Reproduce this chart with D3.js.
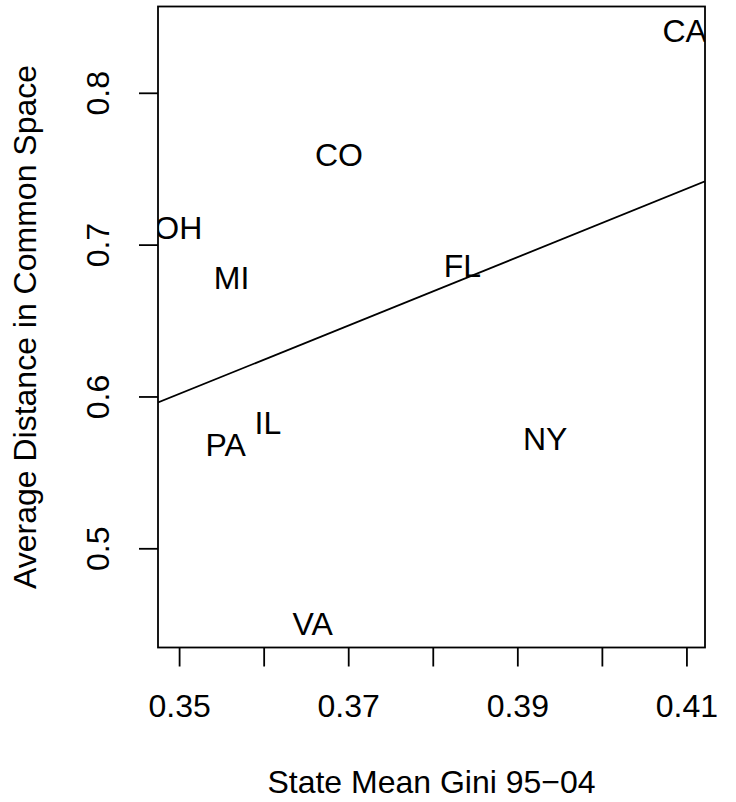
<!DOCTYPE html>
<html>
<head>
<meta charset="utf-8">
<script src="https://cdn.jsdelivr.net/npm/d3@7"></script>
<style>
  html, body { margin: 0; padding: 0; background: #ffffff; }
  svg { display: block; }
  text { font-family: "Liberation Sans", Arial, Helvetica, sans-serif; fill: #000; }
</style>
</head>
<body>
<script>
// State labels with mean Gini (x) and average distance in common space (y)
const states = ["OH", "CO", "MI", "CA", "FL", "PA", "IL", "VA", "NY"];
const gini = [0.3499, 0.3689, 0.3562, 0.4098, 0.3835, 0.3555, 0.3605, 0.3658, 0.3933];
const distance = [0.7110, 0.7593, 0.6782, 0.8412, 0.6863, 0.5684, 0.5831, 0.4503, 0.5723];

const xTicks = [0.35, 0.36, 0.37, 0.38, 0.39, 0.40, 0.41];
const xTickLabels = ["0.35", "", "0.37", "", "0.39", "", "0.41"];
const yTicks = [0.5, 0.6, 0.7, 0.8];
const yTickLabels = ["0.5", "0.6", "0.7", "0.8"];

const xTitle = "State Mean Gini 95\u221204";
const yTitle = "Average Distance in Common Space";

const W = 736, H = 802;
const box = { left: 158, right: 705, top: 6.5, bottom: 647.5 };
const fontSize = 32;
const capShift = fontSize * 0.716 / 2;

// extend data range by 4% on each side, like a default base-graphics plot
function padded(arr) {
  const [lo, hi] = d3.extent(arr);
  const r = hi - lo;
  return [lo - 0.04 * r, hi + 0.04 * r];
}

const x = d3.scaleLinear().domain(padded(gini)).range([box.left, box.right]);
const y = d3.scaleLinear().domain(padded(distance)).range([box.bottom, box.top]);

// ordinary least squares fit
const mx = d3.mean(gini), my = d3.mean(distance);
let sxy = 0, sxx = 0;
gini.forEach((g, i) => { sxy += (g - mx) * (distance[i] - my); sxx += (g - mx) * (g - mx); });
const slope = sxy / sxx;
const intercept = my - slope * mx;

const svg = d3.select("body").append("svg").attr("width", W).attr("height", H);
svg.append("rect").attr("width", W).attr("height", H).attr("fill", "#fff");

svg.append("defs").append("clipPath").attr("id", "plotClip")
  .append("rect")
  .attr("x", box.left).attr("y", box.top)
  .attr("width", box.right - box.left).attr("height", box.bottom - box.top);

const plot = svg.append("g").attr("clip-path", "url(#plotClip)");

// point labels
plot.selectAll("text.state")
  .data(states)
  .enter().append("text")
  .attr("class", "state")
  .attr("x", (d, i) => x(gini[i]))
  .attr("y", (d, i) => y(distance[i]) + capShift)
  .attr("text-anchor", "middle")
  .attr("font-size", fontSize)
  .text(d => d);

// regression line across the plot region
const xd = x.domain();
plot.append("line")
  .attr("x1", x(xd[0])).attr("y1", y(intercept + slope * xd[0]))
  .attr("x2", x(xd[1])).attr("y2", y(intercept + slope * xd[1]))
  .attr("stroke", "#000").attr("stroke-width", 1.8);

// frame
svg.append("rect")
  .attr("x", box.left).attr("y", box.top)
  .attr("width", box.right - box.left).attr("height", box.bottom - box.top)
  .attr("fill", "none").attr("stroke", "#000").attr("stroke-width", 1.8);

// x axis
const xAxis = d3.axisBottom(x)
  .tickValues(xTicks)
  .tickSize(19)
  .tickPadding(0)
  .tickFormat((d, i) => xTickLabels[i]);
const gx = svg.append("g").attr("transform", `translate(0,${box.bottom})`).call(xAxis);
gx.select(".domain").remove();
gx.selectAll(".tick line").attr("stroke", "#000").attr("stroke-width", 1.8);
gx.selectAll(".tick text")
  .attr("font-size", fontSize)
  .attr("font-family", "Liberation Sans, Arial, sans-serif")
  .attr("dy", null)
  .attr("y", 717 - box.bottom);

// y axis
const yAxis = d3.axisLeft(y)
  .tickValues(yTicks)
  .tickSize(19)
  .tickPadding(0)
  .tickFormat((d, i) => yTickLabels[i]);
const gy = svg.append("g").attr("transform", `translate(${box.left},0)`).call(yAxis);
gy.select(".domain").remove();
gy.selectAll(".tick line").attr("stroke", "#000").attr("stroke-width", 1.8);
gy.selectAll(".tick text")
  .attr("font-size", fontSize)
  .attr("font-family", "Liberation Sans, Arial, sans-serif")
  .attr("x", null).attr("dy", null)
  .attr("text-anchor", "middle")
  .attr("transform", `translate(${109 - box.left},0) rotate(-90)`);

// axis titles
svg.append("text")
  .attr("x", (box.left + box.right) / 2)
  .attr("y", 793)
  .attr("text-anchor", "middle")
  .attr("font-size", fontSize)
  .text(xTitle);

svg.append("text")
  .attr("transform", `translate(36,${(box.top + box.bottom) / 2}) rotate(-90)`)
  .attr("text-anchor", "middle")
  .attr("font-size", fontSize)
  .text(yTitle);
</script>
</body>
</html>
